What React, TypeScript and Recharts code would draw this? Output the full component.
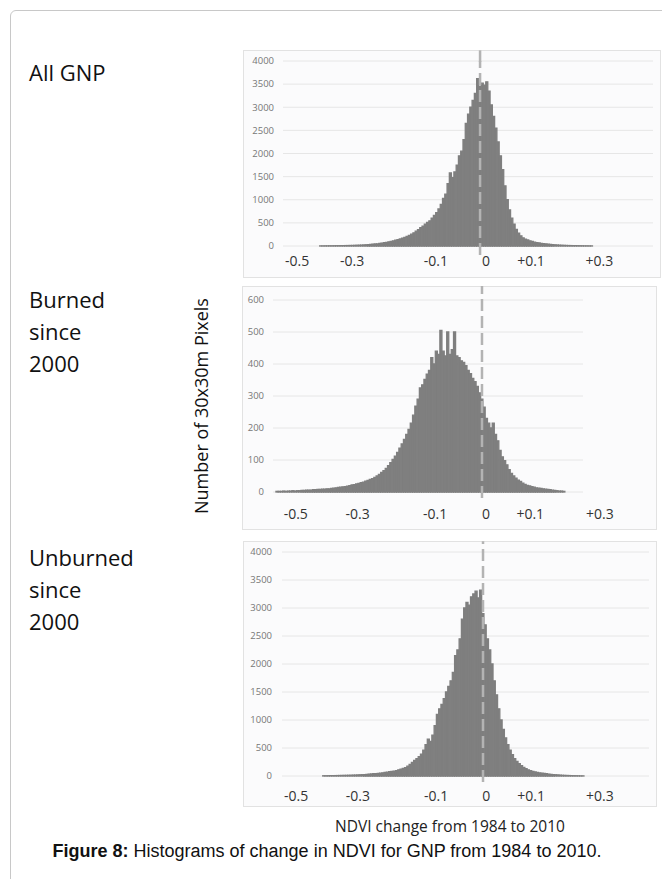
import React from "react";
import {
  BarChart,
  Bar,
  XAxis,
  YAxis,
  CartesianGrid,
  ReferenceLine,
} from "recharts";

const BIN_WIDTH = 0.005;

// pixel counts per 0.005 NDVI bin, the first bin starts at *Start
const allStart = -0.35;
const allCounts = [
  2, 2, 3, 3, 4, 4, 5, 6, 6, 7, 8,
  9, 10, 11, 12, 14, 16, 18, 20, 23, 26,
  30, 34, 38, 43, 48, 55, 62, 70, 80, 90,
  100, 112, 125, 138, 152, 168, 185, 205, 228, 255,
  285, 320, 355, 395, 430, 470, 510, 545, 600, 660,
  720, 800, 900, 1030, 1120, 1350, 1580, 1480, 1600, 1750,
  1950, 2050, 2300, 2650, 2850, 3000, 3150, 3300, 3620, 3450,
  3520, 3480, 3550, 3350, 3050, 2800, 2550, 2250, 1950, 1650,
  1300, 1000, 780, 600, 470, 360, 280, 220, 175, 150,
  130, 112, 97, 85, 74, 65, 57, 50, 44, 38,
  33, 29, 25, 22, 19, 16, 14, 12, 10, 9,
  8, 7, 6, 5, 4, 3, 3, 2, 2,
];

const burnedStart = -0.45;
const burnedCounts = [
  2, 2, 2, 3, 2, 3, 3, 4, 3, 4,
  4, 5, 5, 6, 6, 6, 7, 7, 8, 8,
  9, 9, 10, 10, 11, 12, 13, 14, 15, 16,
  17, 18, 20, 22, 23, 25, 27, 29, 31, 34,
  36, 39, 42, 46, 50, 55, 61, 67, 74, 82,
  92, 102, 112, 124, 137, 150, 164, 180, 196, 215,
  240, 268, 290, 325, 335, 352, 368, 380, 420, 400,
  440, 430, 505, 440, 425, 500, 430, 445, 500, 425,
  420, 410, 405, 395, 380, 370, 355, 345, 330, 310,
  290, 265, 230, 215, 200, 215, 180, 160, 130, 110,
  98, 85, 70, 58, 50, 43, 37, 33, 28, 24,
  21, 19, 17, 15, 13, 12, 11, 10, 9, 8,
  7, 6, 5, 4, 3, 3, 2,
];

const unburnedStart = -0.35;
const unburnedCounts = [
  4, 4, 5, 6, 6, 7, 8, 9, 10, 11,
  12, 13, 14, 16, 17, 19, 21, 23, 26, 29,
  32, 36, 40, 44, 48, 52, 57, 63, 69, 76,
  82, 88, 95, 110, 122, 135, 150, 175, 205, 245,
  280, 310, 345, 390, 460, 560, 660, 620, 730, 900,
  1100, 1200, 1280, 1380, 1500, 1600, 1700, 1850, 2150, 2250,
  2450, 2800, 3000, 3100, 3050, 3200, 3250, 3300, 3180, 3320,
  2900, 2700, 2450, 2250, 2000, 1700, 1450, 1200, 1000, 830,
  680, 560, 460, 380, 310, 260, 220, 185, 155, 130,
  110, 95, 82, 72, 63, 56, 50, 45, 40, 35,
  30, 26, 22, 19, 16, 13, 11, 9, 8, 6,
  5, 4, 3, 2, 2,
];

const xTickLabels = ["-0.5", "-0.3", "-0.1", "0", "+0.1", "+0.3"];
// the labels were placed by hand, so they sit a little off the true NDVI values
const allTickPos = [-0.402, -0.281, -0.097, 0.013, 0.112, 0.262];
const burnedTickPos = [-0.409, -0.273, -0.103, 0.009, 0.106, 0.259];
const unburnedTickPos = [-0.411, -0.275, -0.103, 0.007, 0.106, 0.257];

const countTicks = [0, 500, 1000, 1500, 2000, 2500, 3000, 3500, 4000];
const burnedCountTicks = [0, 100, 200, 300, 400, 500, 600];

const toBins = (start: number, counts: number[]) =>
  counts.map((count, i) => ({
    ndvi: Math.round((start + i * BIN_WIDTH) * 1000) / 1000,
    count,
  }));

const panels = [
  {
    key: "all",
    bins: toBins(allStart, allCounts),
    box: { left: 243, top: 50, width: 418, height: 228 },
    margin: { top: 11, right: 8, bottom: 2, left: 0 },
    yWidth: 40,
    xHeight: 30,
    xDomain: [-0.433, 0.38],
    yDomain: [0, 4000],
    xTicks: allTickPos,
    yTicks: countTicks,
    xTickMargin: 10,
    yTickMargin: 9,
    line: [-195, 4000],
    solidTop: 4230,
  },
  {
    key: "burned",
    bins: toBins(burnedStart, burnedCounts),
    box: { left: 242, top: 286, width: 415, height: 244 },
    margin: { top: 14, right: 7, bottom: 2, left: 0 },
    yWidth: 31,
    xHeight: 36,
    xDomain: [-0.459, 0.369],
    yDomain: [0, 600],
    xTicks: burnedTickPos,
    yTicks: burnedCountTicks,
    xTickMargin: 17,
    yTickMargin: 9,
    gridWidth: 310,
    line: [-19, 650],
  },
  {
    key: "unburned",
    bins: toBins(unburnedStart, unburnedCounts),
    box: { left: 243, top: 541, width: 414, height: 266 },
    margin: { top: 11, right: 8, bottom: 2, left: 0 },
    yWidth: 39,
    xHeight: 29,
    xDomain: [-0.442, 0.365],
    yDomain: [0, 4000],
    xTicks: unburnedTickPos,
    yTicks: countTicks,
    xTickMargin: 15,
    yTickMargin: 10,
    line: [-107, 4190],
  },
];

const Histogram = ({ p }: { p: any }) => (
  <div style={{ position: "absolute", left: p.box.left, top: p.box.top }}>
    <BarChart
      width={p.box.width}
      height={p.box.height}
      data={p.bins}
      margin={p.margin}
      barCategoryGap={0}
    >
      <CartesianGrid vertical={false} stroke="#e6e6e6" width={p.gridWidth} />
      <XAxis
        dataKey="ndvi"
        type="number"
        domain={p.xDomain}
        ticks={p.xTicks}
        interval={0}
        tickFormatter={(_v: number, i: number) => xTickLabels[i]}
        axisLine={false}
        tickLine={false}
        tickSize={0}
        tickMargin={p.xTickMargin}
        height={p.xHeight}
        tick={{ fontSize: 14, fill: "#333", fontFamily: "'Open Sans'" }}
      />
      <YAxis
        type="number"
        domain={p.yDomain}
        ticks={p.yTicks}
        interval={0}
        width={p.yWidth}
        axisLine={false}
        tickLine={false}
        tickSize={0}
        tickMargin={p.yTickMargin}
        tick={{ fontSize: 9.5, fill: "#777", fontFamily: "'Open Sans'" }}
      />
      <Bar
        dataKey="count"
        fill="#7f7f7f"
        stroke="#7f7f7f"
        strokeWidth={1.3}
        barSize={2.6}
        isAnimationActive={false}
      />
      <ReferenceLine
        segment={[
          { x: 0, y: p.line[0] },
          { x: 0, y: p.line[1] },
        ]}
        ifOverflow="visible"
        stroke="#b3b3b3"
        strokeWidth={2.5}
        strokeDasharray="12 5"
      />
      {p.solidTop && (
        <ReferenceLine
          segment={[
            { x: 0, y: 3980 },
            { x: 0, y: p.solidTop },
          ]}
          ifOverflow="visible"
          stroke="#b3b3b3"
          strokeWidth={2.5}
        />
      )}
    </BarChart>
  </div>
);

const sideLabel = (lines: string[], top: number) => (
  <div
    style={{
      position: "absolute",
      left: 29,
      top,
      fontSize: 22,
      lineHeight: "32.2px",
      color: "#111",
    }}
  >
    {lines.map((l) => (
      <div key={l}>{l}</div>
    ))}
  </div>
);

export default function App() {
  return (
    <div
      style={{
        position: "absolute",
        left: 0,
        top: 0,
        width: 662,
        height: 879,
        overflow: "hidden",
        background: "#fff",
        fontFamily: "'Open Sans', sans-serif",
      }}
    >
      <div
        style={{
          position: "absolute",
          left: 10,
          top: 10,
          width: 720,
          height: 920,
          border: "1.5px solid #c8c8c8",
          borderRadius: 6,
          boxSizing: "border-box",
        }}
      />
      {panels.map((p) => (
        <div
          key={p.key + "card"}
          style={{
            position: "absolute",
            left: p.box.left,
            top: p.box.top,
            width: p.box.width,
            height: p.box.height,
            border: "1px solid #e2e2e2",
            background: "#fbfbfc",
            boxSizing: "border-box",
          }}
        />
      ))}
      {panels.map((p) => (
        <Histogram key={p.key} p={p} />
      ))}
      {sideLabel(["All GNP"], 56)}
      {sideLabel(["Burned", "since", "2000"], 283)}
      {sideLabel(["Unburned", "since", "2000"], 541)}
      <div
        style={{
          position: "absolute",
          left: 201 - 150,
          top: 406 - 9,
          width: 300,
          height: 18,
          lineHeight: "18px",
          fontSize: 18,
          textAlign: "center",
          color: "#111",
          transform: "rotate(-90deg)",
        }}
      >
        Number of 30x30m Pixels
      </div>
      <div
        style={{
          position: "absolute",
          left: 450 - 150,
          top: 816,
          width: 300,
          lineHeight: "20px",
          fontSize: 15.5,
          textAlign: "center",
          color: "#222",
        }}
      >
        NDVI change from 1984 to 2010
      </div>
      <div
        style={{
          position: "absolute",
          left: 0,
          top: 840,
          width: 654,
          lineHeight: "22px",
          fontSize: 18,
          textAlign: "center",
          color: "#111",
          fontFamily: "'Liberation Sans', Arial, sans-serif",
        }}
      >
        <b>Figure 8:</b> Histograms of change in NDVI for GNP from 1984 to 2010.
      </div>
    </div>
  );
}
